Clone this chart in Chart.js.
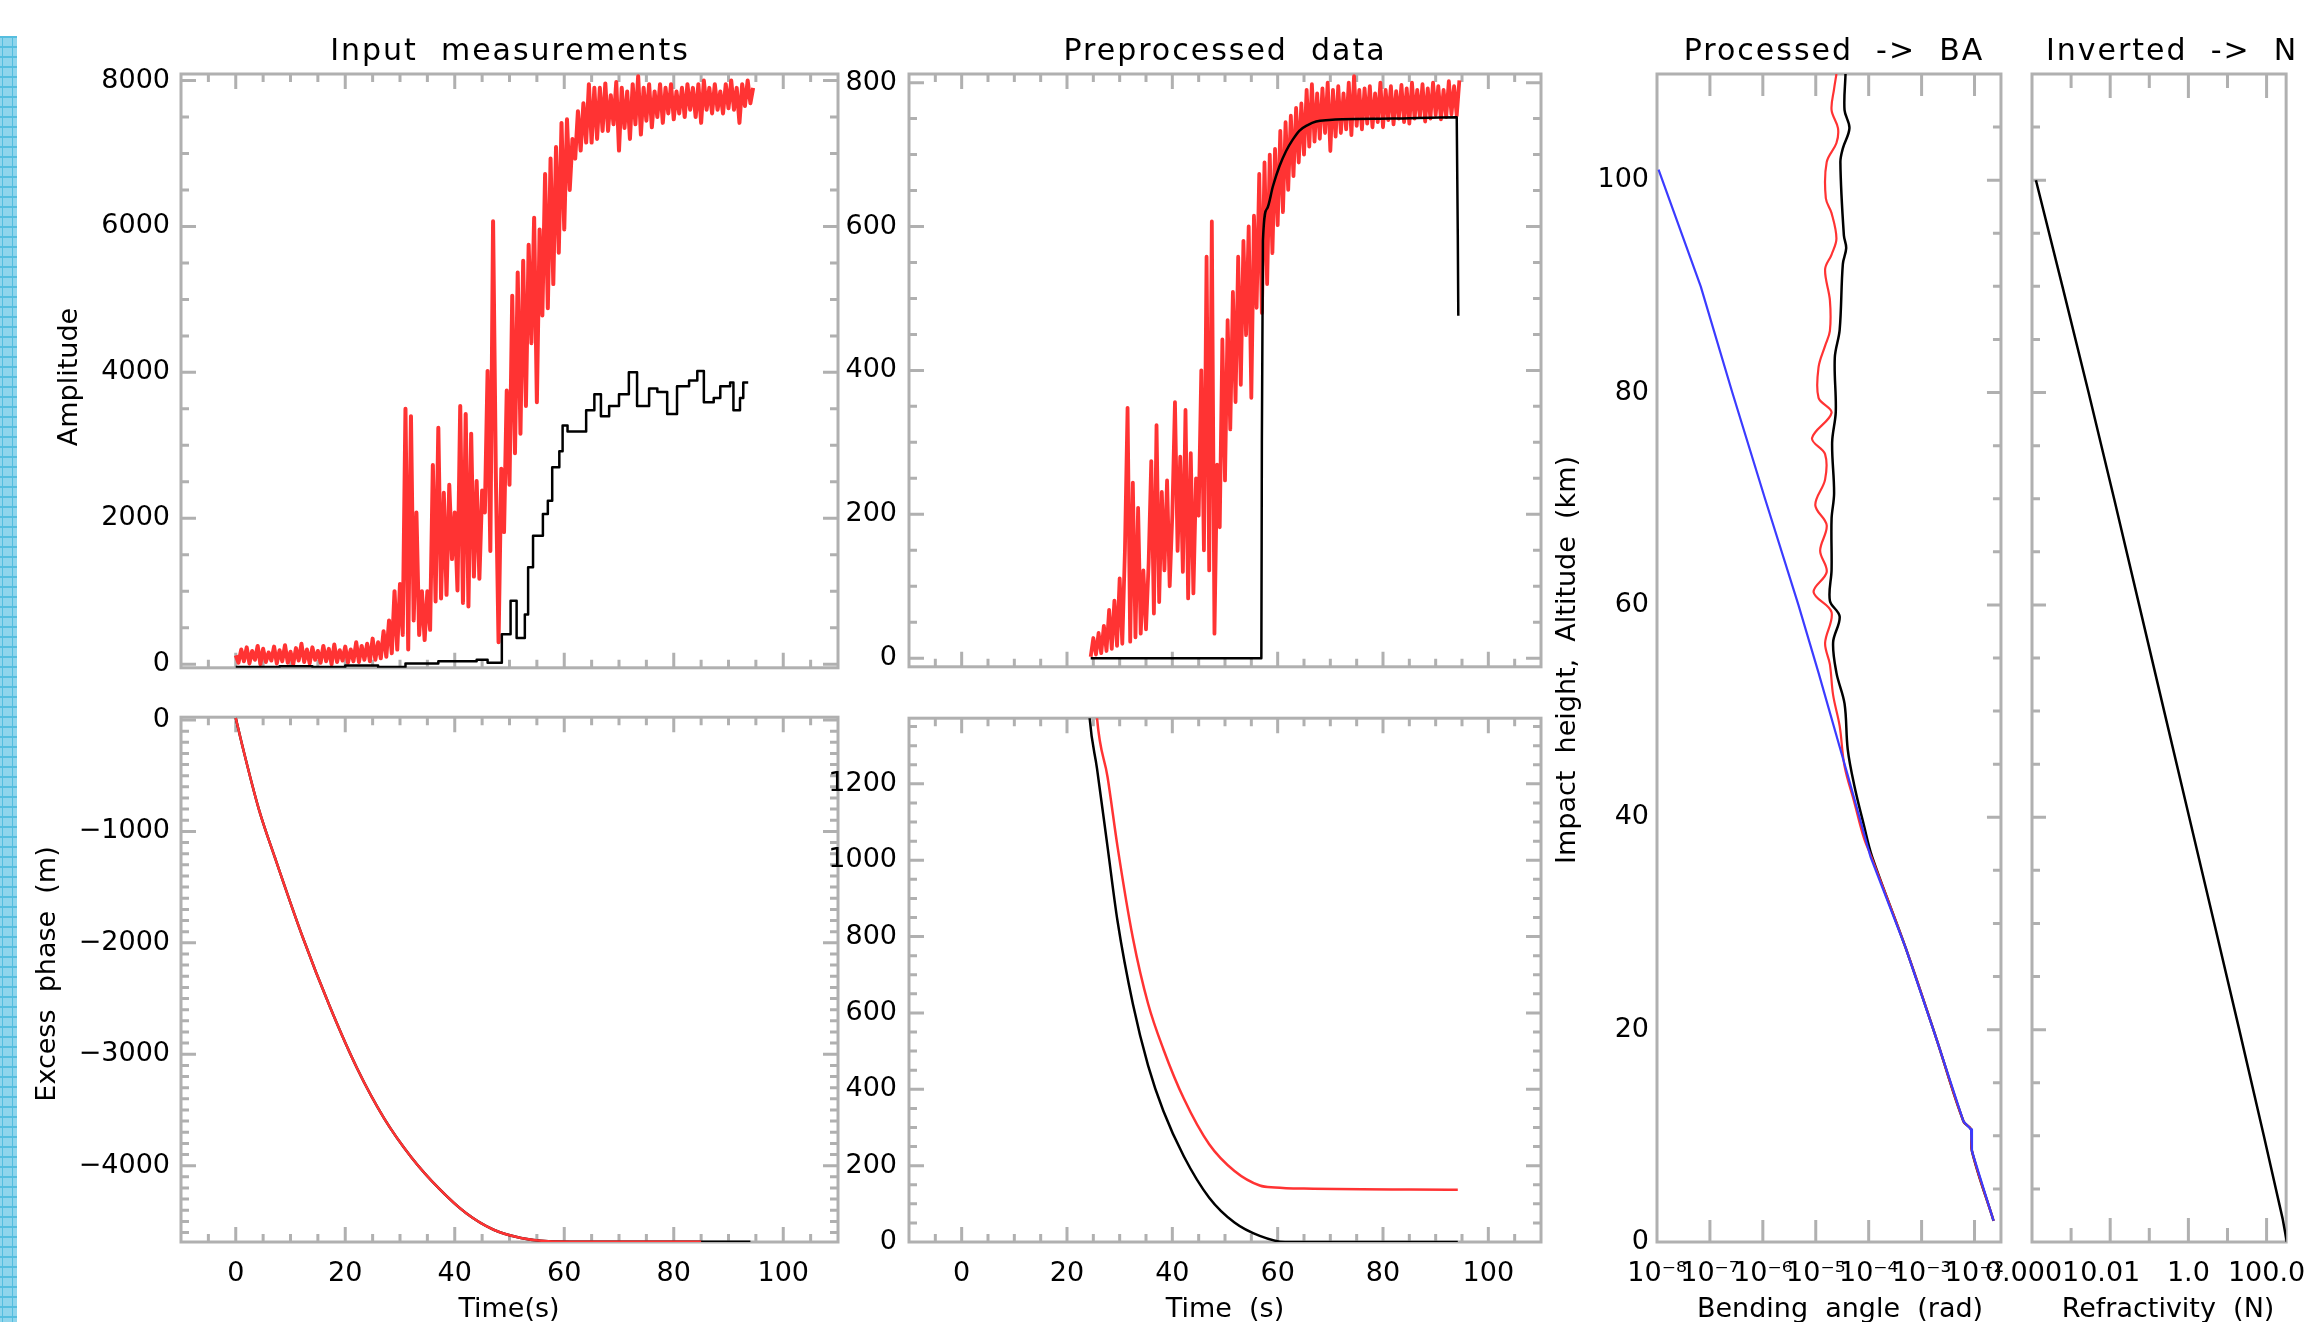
<!DOCTYPE html>
<html>
<head>
<meta charset="utf-8">
<title>Occultation processing chain</title>
<script src="https://cdn.jsdelivr.net/npm/chart.js@4/dist/chart.umd.min.js"></script>
<style>
  html, body { margin: 0; padding: 0; background: #fff; }
  body { position: relative; width: 2309px; height: 1322px; overflow: hidden; }
  canvas { position: absolute; }
  #strip {
    position: absolute; left: 0; top: 36px; width: 17px; height: 1286px;
    background-color: #8fd5ec;
    background-image:
      linear-gradient(#55bedf 2px, transparent 2px),
      linear-gradient(90deg, transparent 2px, #55bedf 2px, #55bedf 3.5px, transparent 3.5px,
                      transparent 12px, #55bedf 12px, #55bedf 13.5px, transparent 13.5px);
    background-size: 17px 10px, 17px 10px;
  }
</style>
</head>
<body>
<div id="strip"></div>
<canvas id="p1"></canvas>
<canvas id="p2"></canvas>
<canvas id="p3"></canvas>
<canvas id="p4"></canvas>
<canvas id="p5"></canvas>
<canvas id="p6"></canvas>
<script>
// ---- values ----

// raw amplitude (red), one sample every 0.5 s from t = 0
const ampRawStart = 0;
const ampStep = 0.5;
const ampRaw = [
  120, 20, 200, 40, 230, 10, 180, 60, 250, 0,
  210, 30, 160, 50, 240, 10, 190, 40, 260, 20,
  170, 0, 220, 50, 280, 30, 200, 10, 230, 60,
  180, 20, 250, 40, 210, 0, 270, 30, 190, 50,
  240, 20, 200, 40, 300, 30, 250, 60, 280, 40,
  350, 60, 300, 80, 450, 100, 600, 150, 1000, 200,
  1100, 400, 3500, 200, 3400, 600, 2080, 400, 1000, 330,
  1000, 470, 2730, 860, 3240, 900, 2350, 950, 2460, 1440,
  2080, 1010, 3540, 840, 3430, 790, 3160, 1200, 2510, 1170,
  2380, 2080, 4020, 1550, 6070, 2620, 300, 2680, 1810, 3750,
  2460, 5050, 2890, 5370, 3160, 5530, 3540, 5750, 4400, 6120,
  3590, 5960, 4780, 6720, 4880, 6930, 5210, 7090, 5640, 7420,
  5960, 7470, 6500, 7200, 6930, 7580, 7040, 7690, 7150, 7950,
  7150, 7900, 7200, 7900, 7310, 7960, 7310, 7800, 7400, 7980,
  7040, 7900, 7350, 7850, 7200, 7950, 7400, 8060, 7260, 7900,
  7450, 7950, 7360, 7850, 7500, 7950, 7420, 7900, 7550, 7950,
  7470, 7850, 7550, 7900, 7500, 7950, 7600, 7900, 7500, 7950,
  7420, 8000, 7600, 7900, 7550, 7950, 7600, 7850, 7550, 7950,
  7620, 8000, 7600, 7900, 7420, 7950, 7650, 8000, 7690, 7900
];

// raw amplitude, second receiver channel (black, stepped)
const ampRawL2T = [0, 8, 14, 20, 26, 31, 37, 44, 46, 48.6, 50.2, 51.3, 52.8, 53.4, 54.3, 56.1,
  57.0, 57.8, 59.1, 59.7, 60.6, 64.0, 65.5, 66.7, 68.2, 70.0, 71.8, 73.3, 75.5, 77.0, 78.8,
  80.6, 82.8, 84.3, 85.5, 87.3, 88.5, 90.3, 90.9, 92.1, 92.7, 93.6];
const ampRawL2 = [-40, -30, -40, -20, -40, 10, 40, 60, 20, 410, 870, 360, 680, 1330, 1760, 2060,
  2240, 2700, 2920, 3270, 3190, 3480, 3700, 3400, 3540, 3700, 4000, 3540, 3780, 3730, 3430,
  3810, 3890, 4020, 3590, 3650, 3810, 3860, 3480, 3650, 3860, 3860];

// preprocessed amplitude (red), every 0.5 s from t = 24.5
const ampPreStart = 24.5;
const ampPre = [
  2, 28, 5, 35, 7, 45, 10, 67, 13, 80,
  17, 111, 20, 150, 348, 23, 244, 29, 209, 34,
  122, 40, 132, 274, 62, 324, 78, 231, 122, 247,
  100, 200, 356, 149, 280, 120, 345, 83, 285, 90,
  250, 198, 400, 150, 558, 122, 607, 34, 269, 182,
  443, 247, 470, 318, 509, 356, 558, 380, 580, 449,
  600, 362, 615, 487, 673, 480, 689, 520, 700, 563,
  708, 602, 733, 620, 745, 651, 754, 670, 765, 689,
  771, 700, 790, 711, 798, 718, 785, 722, 792, 730,
  800, 705, 790, 725, 795, 730, 785, 735, 800, 727,
  809, 740, 790, 735, 792, 743, 795, 738, 785, 745,
  800, 738, 790, 748, 795, 742, 788, 750, 797, 745,
  792, 743, 800, 750, 790, 752, 798, 746, 792, 750,
  800, 755, 795, 749, 790, 752, 802, 756, 795, 754, 803
];

// preprocessed amplitude, smoothed (black)
const ampSmoothT = [24.5, 56.9, 57.0, 57.2, 58.0, 59.1, 60.3, 61.6, 62.8, 64.1, 65.7, 67.3, 69.8, 72.3, 81.8, 94.0, 94.3];
const ampSmooth = [0, 0, 300, 580, 625, 656, 683, 705, 720, 733, 741, 746, 748, 749, 750, 752, 476];

// excess phase (m), raw
const phaseT = [0, 1.2, 4.2, 7.2, 12.2, 17.2, 22.2, 27.1, 32.1, 37.1, 42.1, 47.1, 52.1, 57.1, 62, 70, 85, 94];
const phaseL2 = [18, -230, -797, -1241, -1945, -2574, -3130, -3575, -3926, -4204, -4427, -4575, -4649, -4678, -4682, -4683, -4683, -4683];
const phaseL1 = [18, -230, -797, -1241, -1945, -2574, -3130, -3575, -3926, -4204, -4427, -4575, -4649, -4678, -4682, -4683, -4683];

// excess phase (m), preprocessed
const prePhaseBlackT = [24.0, 24.3, 25.7, 27.7, 29.6, 32.5, 35.4, 38.3, 42.2, 47.0, 51.8, 56.6, 61.4, 70, 94.2];
const prePhaseBlack = [1440, 1372, 1240, 1035, 840, 624, 462, 343, 224, 116, 51, 16, 0, 0, 0];
const prePhaseRedT = [25.4, 25.7, 27.7, 29.6, 32.5, 35.4, 38.3, 42.2, 47.0, 51.8, 56.6, 59.5, 65, 94.2];
const prePhaseRed = [1440, 1372, 1218, 1035, 797, 624, 505, 375, 256, 186, 148, 143, 140, 137];

// bending angle (rad) against impact height (km)
const baModelH = [101, 90, 80, 70, 60, 53.6, 44, 36.3];
const baModel = [1.07e-8, 6.7e-8, 2.65e-7, 1.1e-6, 4.7e-6, 1.13e-5, 4.0e-5, 1.08e-4];
const baRedH = [110, 108.6, 106.6, 104.9, 103.5, 101.7, 98.3, 96.9, 94.5, 93, 91.6, 88.7, 85.8, 84.4,
  82.4, 79.5, 78.1, 75.7, 74.2, 71.8, 69.4, 67.5, 65.1, 63.1, 61.2, 59.3, 56.4, 54.4, 51.5, 48.6,
  44.8, 41.4, 38, 36.1];
const baRed = [2.46e-5, 2.22e-5, 1.99e-5, 2.63e-5, 2.46e-5, 1.61e-5, 1.55e-5, 1.99e-5, 2.46e-5,
  1.99e-5, 1.5e-5, 1.85e-5, 1.85e-5, 1.5e-5, 1.13e-5, 1.13e-5, 1.99e-5, 8.5e-6, 1.5e-5, 1.5e-5,
  9.8e-6, 1.61e-5, 1.21e-5, 1.61e-5, 9.1e-6, 1.99e-5, 1.5e-5, 1.85e-5, 2.13e-5, 2.83e-5, 3.5e-5,
  5.35e-5, 8.17e-5, 1.16e-4];
const baBlackH = [110, 106.6, 104.9, 103, 101.7, 94.8, 93.6, 92.1, 85.9, 83.3, 78.2, 75.3, 70.5, 68.1,
  63.3, 60.4, 58.9, 56.5, 53.6, 50.7, 46.4, 43, 39.2, 36.3];
const baBlack = [3.65e-5, 3.5e-5, 4.33e-5, 3.25e-5, 2.92e-5, 3.4e-5, 3.76e-5, 3.25e-5, 2.83e-5, 2.29e-5,
  2.39e-5, 2.04e-5, 2.22e-5, 1.99e-5, 1.99e-5, 1.85e-5, 2.83e-5, 2.13e-5, 2.46e-5, 3.5e-5, 4.02e-5,
  5.35e-5, 8.17e-5, 1.16e-4];
// below ~36 km all three profiles coincide
const baLowH = [27.7, 19.3, 11.35, 10.6, 8.56, 2.0];
const baLow = [5.0e-4, 1.86e-3, 6.2e-3, 8.6e-3, 8.95e-3, 2.29e-2];

// refractivity (N) against altitude (km)
const refH = [100, 90, 80, 70, 60, 50, 40, 30, 20, 10, 2.2, 0];
const refN = [1.26e-4, 6.0e-4, 2.8e-3, 0.0126, 0.055, 0.24, 1.05, 4.6, 20, 85, 257, 330];

// tick labels
const timeTicks = [0, 20, 40, 60, 80, 100];
const ampTicks = [0, 2000, 4000, 6000, 8000];
const preAmpTicks = [0, 200, 400, 600, 800];
const phaseTicks = [0, -1000, -2000, -3000, -4000];
const prePhaseTicks = [0, 200, 400, 600, 800, 1000, 1200];
const heightTicks = [0, 20, 40, 60, 80, 100];
const baTicks = [1e-8, 1e-7, 1e-6, 1e-5, 1e-4, 1e-3, 1e-2];
const baTickLabels = ['10⁻⁸', '10⁻⁷', '10⁻⁶', '10⁻⁵', '10⁻⁴', '10⁻³', '10⁻²'];
const refTicks = [1e-4, 1e-2, 1, 100];
const refTickLabels = ['0.0001', '0.01', '1.0', '100.0'];

// ---- drawing ----
const RED = '#ff3333';
const BLUE = '#3b3bff';
const FRAME = '#b0b0b0';
const FONT = 'DejaVu Sans';

const pts = (xs, ys) => ys.map((y, i) => ({ x: xs[i], y }));
const sampled = (t0, dt, ys) => ys.map((y, i) => ({ x: t0 + i * dt, y }));
const profile = (hs, vals) => hs.map((h, i) => ({ x: vals[i], y: h }));

function linTicks(min, max, major, minor, lMaj, lMin) {
  const out = [];
  for (let v = Math.ceil(min / minor) * minor; v <= max; v += minor) {
    const isMajor = Math.abs(v / major - Math.round(v / major)) < 1e-6;
    out.push([v, isMajor ? lMaj : lMin]);
  }
  return out;
}

// IDL style box: grey frame with inward ticks
const idlFrame = {
  id: 'idlFrame',
  beforeDatasetsDraw(chart, args, o) {
    const { ctx, chartArea: a, scales: { x, y } } = chart;
    ctx.save();
    ctx.strokeStyle = FRAME;
    ctx.lineWidth = 3;
    ctx.beginPath();
    o.xTicks.forEach(([v, len]) => {
      const p = x.getPixelForValue(v);
      if (p <= a.left + 2 || p >= a.right - 2) return;
      ctx.moveTo(p, a.bottom); ctx.lineTo(p, a.bottom - len);
      ctx.moveTo(p, a.top); ctx.lineTo(p, a.top + len);
    });
    o.yTicks.forEach(([v, len]) => {
      const p = y.getPixelForValue(v);
      if (p <= a.top + 2 || p >= a.bottom - 2) return;
      if (o.ySides.includes('left')) { ctx.moveTo(a.left, p); ctx.lineTo(a.left + len, p); }
      if (o.ySides.includes('right')) { ctx.moveTo(a.right, p); ctx.lineTo(a.right - len, p); }
    });
    ctx.stroke();
    ctx.strokeRect(a.left, a.top, a.right - a.left, a.bottom - a.top);
    ctx.restore();
  }
};

// titles, given in page coordinates
const idlText = {
  id: 'idlText',
  afterDraw(chart, args, o) {
    const ctx = chart.ctx;
    const ox = chart.canvas.offsetLeft, oy = chart.canvas.offsetTop;
    ctx.save();
    ctx.fillStyle = '#000';
    ctx.textAlign = 'center';
    ctx.textBaseline = 'alphabetic';
    o.items.forEach(t => {
      ctx.font = `${t.size}px "${FONT}"`;
      ctx.letterSpacing = (t.spacing || 0) + 'px';
      ctx.save();
      ctx.translate(t.x - ox, t.y - oy);
      if (t.rotate) ctx.rotate(-Math.PI / 2);
      ctx.fillText(t.text, 0, 0);
      ctx.restore();
    });
    ctx.restore();
  }
};

function axis(cfg, size, pad, isX) {
  return {
    type: cfg.type || 'linear',
    min: cfg.min,
    max: cfg.max,
    bounds: 'data',
    afterFit: s => { if (isX) s.height = size; else s.width = size; },
    afterBuildTicks: s => { s.ticks = (cfg.ticks || []).map(v => ({ value: v })); },
    grid: { display: false, drawTicks: false },
    border: { display: false },
    ticks: {
      display: !!cfg.labels,
      autoSkip: false,
      maxRotation: 0,
      minRotation: 0,
      padding: pad,
      color: '#000',
      font: { family: FONT, size: 27 },
      callback: (v, i) => cfg.labels ? cfg.labels(v, i) : ''
    }
  };
}

function makePanel(p) {
  const cv = document.getElementById(p.id);
  const [bl, bt, br, bb] = p.box;
  const [fl, ft, fr, fb] = p.frame;
  cv.width = br - bl;
  cv.height = bb - bt;
  cv.style.left = bl + 'px';
  cv.style.top = bt + 'px';
  return new Chart(cv, {
    type: 'line',
    data: { datasets: p.datasets },
    options: {
      responsive: false,
      animation: false,
      events: [],
      layout: { padding: { left: 0, top: ft - bt, right: br - fr, bottom: 0 }, autoPadding: false },
      elements: { point: { radius: 0 }, line: { borderJoinStyle: 'round' } },
      plugins: {
        legend: { display: false },
        tooltip: { enabled: false },
        idlFrame: { xTicks: p.xTicks, yTicks: p.yTicks, ySides: p.ySides || ['left', 'right'] },
        idlText: { items: p.text }
      },
      scales: {
        x: axis(p.x, bb - fb, 16, true),
        y: axis(p.y, fl - bl, p.yPad || 11, false)
      }
    },
    plugins: [idlFrame, idlText]
  });
}

const num = v => String(v);
const neg = v => (v < 0 ? '−' + Math.abs(v) : String(v));
const timeAxis = { min: -10, max: 110, ticks: timeTicks };
const timeTickMarks = linTicks(-10, 110, 20, 5, 15, 8);

makePanel({
  id: 'p1', box: [20, 0, 852, 695], frame: [181, 74, 838, 681],
  x: timeAxis,
  y: { min: -50, max: 8090, ticks: ampTicks, labels: num },
  xTicks: timeTickMarks, yTicks: linTicks(-50, 8090, 2000, 500, 15, 8),
  datasets: [
    { data: pts(ampRawL2T, ampRawL2), borderColor: '#000', borderWidth: 2.5, stepped: 'before' },
    { data: sampled(ampRawStart, ampStep, ampRaw), borderColor: RED, borderWidth: 4 }
  ],
  text: [
    { text: 'Input  measurements', x: 510, y: 60, size: 30, spacing: 2 },
    { text: 'Amplitude', x: 77, y: 377, size: 27, rotate: true }
  ]
});

makePanel({
  id: 'p2', box: [815, 0, 1553, 695], frame: [909, 74, 1541, 681],
  x: timeAxis,
  y: { min: -12, max: 812, ticks: preAmpTicks, labels: num },
  yPad: 12,
  xTicks: timeTickMarks, yTicks: linTicks(-12, 812, 200, 50, 15, 8),
  datasets: [
    { data: pts(ampSmoothT, ampSmooth), borderColor: '#000', borderWidth: 2.5, cubicInterpolationMode: 'monotone' },
    { data: sampled(ampPreStart, ampStep, ampPre), borderColor: RED, borderWidth: 3.8 }
  ],
  text: [
    { text: 'Preprocessed  data', x: 1225, y: 60, size: 30, spacing: 2 }
  ]
});

makePanel({
  id: 'p3', box: [20, 690, 852, 1322], frame: [181, 706, 838, 1242],
  x: { min: -10, max: 110, ticks: timeTicks, labels: num },
  y: { min: -4685, max: 25, ticks: phaseTicks, labels: neg },
  xTicks: timeTickMarks, yTicks: linTicks(-4685, 25, 1000, 100, 15, 8),
  datasets: [
    { data: pts(phaseT, phaseL1), borderColor: RED, borderWidth: 2.5, cubicInterpolationMode: 'monotone' },
    { data: pts(phaseT, phaseL2), borderColor: '#000', borderWidth: 2.5, cubicInterpolationMode: 'monotone' }
  ],
  text: [
    { text: 'Excess  phase  (m)', x: 55, y: 974, size: 27, rotate: true },
    { text: 'Time(s)', x: 509, y: 1317, size: 27 }
  ]
});

makePanel({
  id: 'p4', box: [815, 690, 1553, 1322], frame: [909, 706, 1541, 1242],
  x: { min: -10, max: 110, ticks: timeTicks, labels: num },
  y: { min: 0, max: 1372, ticks: prePhaseTicks, labels: num },
  yPad: 12,
  xTicks: timeTickMarks, yTicks: linTicks(0, 1372, 200, 50, 15, 8),
  datasets: [
    { data: pts(prePhaseRedT, prePhaseRed), borderColor: RED, borderWidth: 2.5, cubicInterpolationMode: 'monotone', clip: 0 },
    { data: pts(prePhaseBlackT, prePhaseBlack), borderColor: '#000', borderWidth: 2.5, cubicInterpolationMode: 'monotone', clip: 0 }
  ],
  text: [
    { text: 'Time  (s)', x: 1225, y: 1317, size: 27 }
  ]
});

makePanel({
  id: 'p5', box: [1545, 0, 2021, 1322], frame: [1657, 74, 2011, 1242],
  x: { type: 'logarithmic', min: 1e-8, max: 0.0316, ticks: baTicks, labels: (v, i) => baTickLabels[i] },
  y: { min: 0, max: 110, ticks: heightTicks, labels: num },
  yPad: 8,
  xTicks: baTicks.map(v => [v, 22]),
  yTicks: linTicks(0, 110, 20, 5, 14, 8), ySides: ['right'],
  datasets: [
    { data: profile(baModelH.concat(baLowH), baModel.concat(baLow)), borderColor: BLUE, borderWidth: 2.2 },
    { data: profile(baRedH.concat(baLowH), baRed.concat(baLow)), borderColor: RED, borderWidth: 2.2, tension: 0.35 },
    { data: profile(baBlackH.concat(baLowH), baBlack.concat(baLow)), borderColor: '#000', borderWidth: 2.5, tension: 0.35 }
  ],
  text: [
    { text: 'Processed  ->  BA', x: 1834, y: 60, size: 30, spacing: 2 },
    { text: 'Impact  height,  Altitude  (km)', x: 1575, y: 660, size: 27, rotate: true },
    { text: 'Bending  angle  (rad)', x: 1840, y: 1317, size: 27 }
  ]
});

makePanel({
  id: 'p6', box: [1960, 0, 2322, 1322], frame: [2032, 74, 2312, 1242],
  x: { type: 'logarithmic', min: 1e-4, max: 316.2, ticks: refTicks, labels: (v, i) => refTickLabels[i] },
  y: { min: 0, max: 110, ticks: heightTicks },
  xTicks: [[1e-3, 14], [1e-2, 24], [1e-1, 14], [1, 24], [10, 14], [100, 24]],
  yTicks: linTicks(0, 110, 20, 5, 14, 8), ySides: ['left'],
  datasets: [
    { data: profile(refH, refN), borderColor: '#000', borderWidth: 2.5, clip: 0 }
  ],
  text: [
    { text: 'Inverted  ->  N', x: 2172, y: 60, size: 30, spacing: 2 },
    { text: 'Refractivity  (N)', x: 2168, y: 1317, size: 27 }
  ]
});
</script>
</body>
</html>
